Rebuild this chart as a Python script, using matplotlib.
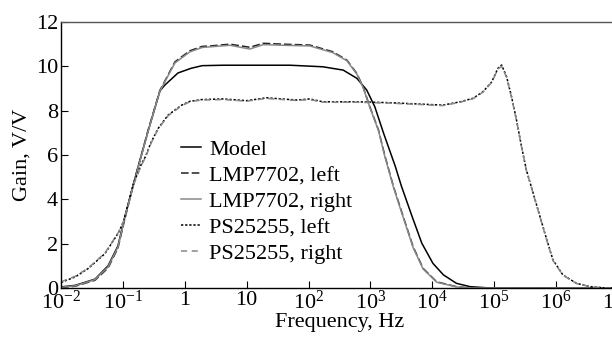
import numpy as np
import matplotlib.pyplot as plt

plt.rcParams['font.family'] = 'Liberation Serif'
plt.rcParams['mathtext.fontset'] = 'custom'
plt.rcParams['mathtext.rm'] = 'Liberation Serif'
plt.rcParams['mathtext.it'] = 'Liberation Serif:italic'

# log10(frequency) / gain pairs
model_lf = [-2.0, -1.77, -1.45, -1.24, -1.08, -0.97, -0.79, -0.59, -0.40, -0.32, -0.11, 0.10, 0.28,
            0.62, 1.70, 2.23, 2.56, 2.78, 2.94, 3.07, 3.21, 3.40, 3.50, 3.67, 3.83, 4.01, 4.18, 4.39, 4.61, 4.93, 7.0]
model_g = [0.05, 0.12, 0.40, 1.00, 1.90, 3.20, 5.10, 7.10, 8.90, 9.16, 9.70, 9.91, 10.03,
           10.05, 10.05, 9.98, 9.83, 9.46, 8.93, 8.18, 7.00, 5.50, 4.60, 3.25, 2.02, 1.11, 0.59, 0.21, 0.06, 0.0, 0.0]

lmp_l_lf = [-2.0, -1.77, -1.45, -1.24, -1.08, -0.97, -0.79, -0.59, -0.40, -0.37, -0.16, 0.08, 0.28,
            0.41, 0.73, 1.05, 1.27, 1.59, 2.02, 2.39, 2.62, 2.78, 2.88, 2.99, 3.13, 3.23, 3.37, 3.53, 3.69,
            3.85, 4.07, 4.39, 4.60, 7.0]
lmp_l_g = [0.02, 0.08, 0.35, 0.90, 1.80, 3.10, 5.10, 7.15, 8.93, 9.08, 10.20, 10.70, 10.90,
           10.92, 11.00, 10.86, 11.04, 11.00, 10.96, 10.66, 10.28, 9.68, 9.08, 8.18, 7.13, 6.00, 4.60, 3.22, 1.86,
           0.89, 0.28, 0.06, 0.0, 0.0]

lmp_r_lf = [-2.0, -1.77, -1.45, -1.24, -1.08, -0.97, -0.79, -0.59, -0.40, -0.37, -0.16, 0.08, 0.28,
            0.41, 0.73, 1.05, 1.27, 1.59, 2.02, 2.39, 2.62, 2.78, 2.88, 2.99, 3.13, 3.23, 3.37, 3.53, 3.69,
            3.85, 4.07, 4.39, 4.60, 7.0]
lmp_r_g = [0.03, 0.10, 0.38, 0.95, 1.85, 3.15, 5.05, 7.10, 8.90, 9.05, 10.15, 10.65, 10.85,
           10.88, 10.95, 10.78, 10.98, 10.95, 10.92, 10.62, 10.25, 9.65, 9.05, 8.15, 7.10, 5.96, 4.56, 3.18, 1.82,
           0.86, 0.26, 0.05, 0.0, 0.0]

ps_l_lf = [-2.0, -1.77, -1.56, -1.29, -1.07, -0.99, -0.83, -0.70, -0.64, -0.54, -0.43, -0.27, -0.05,
           0.08, 0.27, 0.62, 1.00, 1.32, 1.81, 2.02, 2.23, 2.78, 3.31, 4.17, 4.45, 4.66, 4.82, 4.96, 5.06,
           5.12, 5.20, 5.28, 5.36, 5.44, 5.52, 5.63, 5.74, 5.85, 5.95, 6.11, 6.33, 6.55, 6.80, 7.0]
ps_l_g = [0.25, 0.50, 0.88, 1.55, 2.50, 3.00, 4.70, 5.60, 5.90, 6.60, 7.20, 7.80, 8.25,
          8.42, 8.50, 8.53, 8.45, 8.58, 8.48, 8.53, 8.40, 8.40, 8.36, 8.25, 8.40, 8.56, 8.86, 9.30, 9.91,
          10.06, 9.53, 8.63, 7.58, 6.40, 5.32, 4.27, 3.22, 2.17, 1.26, 0.59, 0.21, 0.06, 0.0, 0.0]

ps_r_lf = ps_l_lf
ps_r_g = [0.28, 0.53, 0.90, 1.58, 2.52, 3.00, 4.65, 5.55, 5.86, 6.56, 7.17, 7.77, 8.22,
          8.40, 8.48, 8.50, 8.43, 8.55, 8.46, 8.50, 8.38, 8.38, 8.34, 8.23, 8.38, 8.54, 8.84, 9.28, 9.88,
          10.00, 9.50, 8.60, 7.55, 6.38, 5.30, 4.25, 3.20, 2.15, 1.24, 0.58, 0.20, 0.06, 0.0, 0.0]

tick_pos = [1e-2, 1e-1, 1, 10, 1e2, 1e3, 1e4, 1e5, 1e6, 1e7]
tick_lab = ['$10^{-2}$', '$10^{-1}$', '1', '10', '$10^2$', '$10^3$', '$10^4$', '$10^5$', '$10^6$', '$10^7$']

fig = plt.figure(figsize=(6.12, 3.39), dpi=100)
ax = fig.add_axes([61 / 612, 51 / 339, 557 / 612, 266 / 339])

f = lambda lf: 10 ** np.array(lf)
ax.plot(f(model_lf), model_g, color='black', lw=1.1, label='Model')
ax.plot(f(lmp_l_lf), lmp_l_g, color='#222222', lw=1.1, ls=(0, (5, 2)), label='LMP7702, left')
ax.plot(f(lmp_r_lf), lmp_r_g, color='#888888', lw=1.1, label='LMP7702, right')
ax.plot(f(ps_l_lf), ps_l_g, color='black', lw=1.1, ls=(0, (1.5, 1.2)), label='PS25255, left')
ax.plot(f(ps_r_lf), ps_r_g, color='#888888', lw=1.1, ls=(0, (4, 3)), label='PS25255, right')

ax.set_xscale('log')
ax.set_xlim(1e-2, 1e7)
ax.set_ylim(0, 12)
ax.set_xticks(tick_pos)
ax.set_xticklabels(tick_lab)
ax.minorticks_off()
ax.set_yticks([0, 2, 4, 6, 8, 10, 12])
ax.tick_params(direction='in', length=5, labelsize=16, pad=2)
ax.spines['top'].set_color('#555555')
for s in ax.spines.values():
    s.set_linewidth(1.0)

ax.set_xlabel('Frequency, Hz', fontsize=16, labelpad=-1)
ax.set_ylabel('Gain, V/V', fontsize=16, labelpad=3)

ax.legend(loc='upper left', bbox_to_anchor=(0.196, 0.60), frameon=False, fontsize=16,
          handlelength=0.9, handletextpad=0.35, labelspacing=0.245, borderpad=0)

fig.savefig('out.png', dpi=100)
